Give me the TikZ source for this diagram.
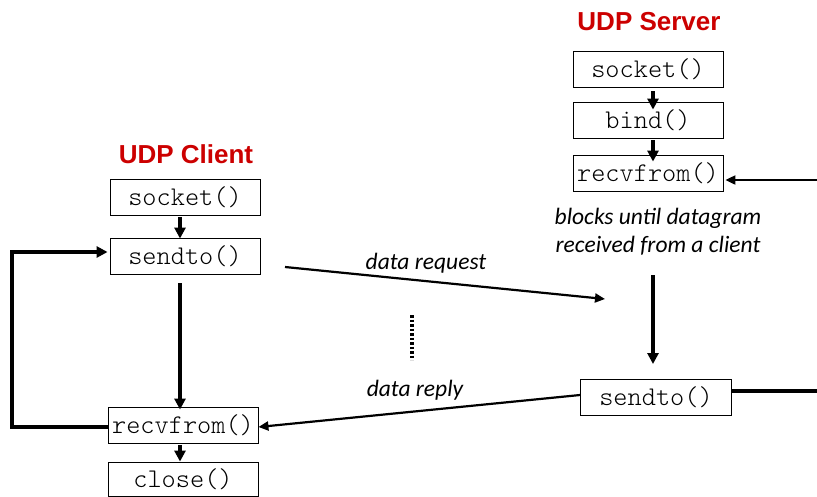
\documentclass[tikz,border=0pt]{standalone}
\usepackage{fontspec}
\setmainfont{Liberation Sans}
\newfontfamily\calit{Carlito}[ItalicFont=* Italic]
\newfontfamily\lmlight{Latin Modern Mono Light}
\usetikzlibrary{arrows.meta}
\definecolor{udpred}{RGB}{204,0,0}
\tikzset{
  fbox/.style={draw, line width=0.9pt, minimum width=150pt, minimum height=36pt, inner sep=0pt, font=\lmlight\fontsize{27}{27}\selectfont},
  ttl/.style={font=\bfseries\fontsize{26}{26}\selectfont, text=udpred},
  note/.style={font=\calit\itshape\fontsize{23.5}{28}\selectfont, align=center},
  arr/.style={line width=3.3pt, -{Triangle[length=11pt,width=11pt]}},
  thinarr/.style={line width=2.2pt, -{Triangle[length=10pt,width=9pt]}},
  thk/.style={line width=3.5pt}
}
\begin{document}
\begin{tikzpicture}[x=1pt,y=-1pt]
\useasboundingbox (0,0) rectangle (817,496);
% server
\node[ttl] (stitle) at (649,22) {UDP Server};
\node[fbox] (ssock) at (648,69) {socket()};
\node[fbox] (sbind) at (648,120) {bind()};
\node[fbox] (srecv) at (648,173) {recvfrom()};
\node[fbox, minimum width=151pt] (ssend) at (656,397) {sendto()};
\node[note] (snote) at (658,232) {blocks until datagram\\received from a client};
% client
\node[ttl] (ctitle) at (186,154) {UDP Client};
\node[fbox] (csock) at (185,197) {socket()};
\node[fbox] (csend) at (185,256) {sendto()};
\node[fbox] (crecv) at (183,425) {recvfrom()};
\node[fbox, minimum height=34pt] (cclose) at (183,479) {close()};
% labels
\node[note] (lreq) at (426,263) {data request};
\node[note] (lrep) at (415,390) {data reply};
% coordinates
\coordinate (rin) at (817,180);
\coordinate (rout) at (817,391);
\coordinate (reqs) at (285,267);
\coordinate (reqe) at (605,299);
\coordinate (sv1) at (653,275);
\coordinate (sv2) at (653,364);
\coordinate (cv1) at (180,283);
\coordinate (la) at (12,427);
\coordinate (lb) at (12,252);
\coordinate (d1) at (412,315);
\coordinate (d2) at (412,360);
% server arrows
\draw[arr] ([xshift=5pt,yshift=-4pt]ssock.south) -- ([xshift=5pt,yshift=-8pt]sbind.north);
\draw[arr] ([xshift=5pt,yshift=-2pt]sbind.south) -- ([xshift=5pt,yshift=-7pt]srecv.north);
\draw[thinarr] (rin) -- ([xshift=2pt]srecv.east |- rin);
\draw[arr] (sv1) -- (sv2);
\draw[thk] (ssend.east |- rout) -- (rout);
% client arrows
\draw[arr] ([xshift=-5pt,yshift=-2pt]csock.south) -- ([xshift=-5pt,yshift=-1pt]csend.north);
\draw[arr] (cv1) -- ([xshift=-3pt,yshift=-3pt]crecv.north);
\draw[arr] ([xshift=-3pt,yshift=-2pt]crecv.south) -- ([xshift=-3pt]cclose.north);
\draw[thk, -{Triangle[length=11pt,width=11pt]}] (crecv.west |- la) -- (la) -- (lb) -- ([xshift=-2pt]csend.west |- lb);
% messages
\draw[thinarr] (reqs) -- (reqe);
\draw[thinarr] (ssend.west |- 0,395) -- (crecv.east |- 0,427);
\draw[line width=3.5pt, dash pattern=on 2.5pt off 2pt] (d1) -- (d2);
\end{tikzpicture}
\end{document}
